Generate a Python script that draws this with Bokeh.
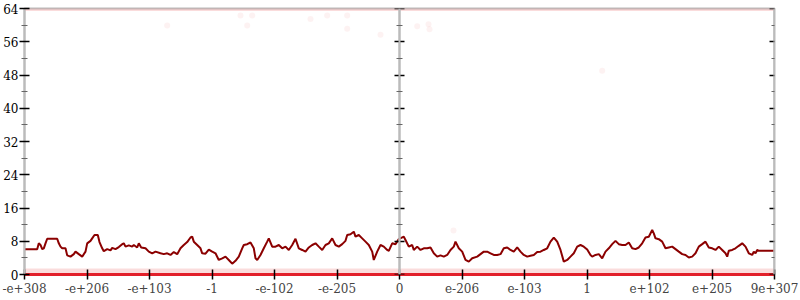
from bokeh.plotting import figure
from bokeh.models import LinearAxis, FixedTicker, Range1d, ColumnDataSource
from bokeh.embed import file_html
from bokeh.resources import INLINE

# ---- data ----
x_tick_pos = [0, 62.5, 125, 187.5, 250, 312.5, 375, 437.5, 500, 562.5, 625, 687.5, 750]
x_tick_labels = ["-e+308", "-e+206", "-e+103", "-1", "-e-102", "-e-205", "0",
                 "e-206", "e-103", "1", "e+102", "e+205", "9e+307"]
y_ticks = [0, 8, 16, 24, 32, 40, 48, 56, 64]
y_minor = [4, 12, 20, 28, 36, 44, 52, 60]

series_x = [0, 11, 12.7, 14.3, 16, 17.7, 19.3, 21, 22.7, 26, 32.7, 34.3, 36, 37.7, 41, 42.7, 46, 49.3, 51, 54.3,
            57.7, 61, 62.7, 66, 67.7, 70, 73.3, 75, 77.7, 79.3, 82.7, 86, 87.7, 91, 94.3, 97.7, 99.3, 101, 104.3,
            107.7, 109.3, 112.7, 114.3, 116.7, 121, 124.3, 127.7, 131, 136, 139.3, 142.7, 146, 149.3, 152.7, 156,
            159.3, 162.7, 166, 167.7, 169.3, 172.7, 176, 177.7, 181, 184.3,
            187.7, 191, 194.3, 197.7, 201, 204.3, 207.7, 211, 214.3, 217.7, 219.3, 222.7, 226, 229.3, 231, 232.7,
            236, 239.3, 242.7, 244.3, 247.7, 251, 254.3, 257.7, 261, 264.3, 267.7, 271, 274.3, 277.7, 281, 284.3,
            287.7, 291, 294.3, 297.7, 301, 304.3, 307.7, 311, 314.3, 317.7, 321, 322.7, 326, 329.3, 331, 334.3,
            337.7, 341, 344.3, 347.7, 349.3, 352.7, 356, 359.3, 362.7, 364.3, 367.7, 371, 374.3,
            379.3, 381, 384.3, 387.7, 389.3, 392.7, 396, 399.3, 402.7, 406, 409.3, 412.7, 416, 419.3, 422.7, 426,
            429.3, 431, 434.3, 437.7, 441, 444.3, 447.7, 452.7, 456, 459.3, 462.7, 466, 469.3, 472.7, 476, 479.3,
            482.7, 486, 489.3, 492.7, 496, 499.3, 502.7, 506, 509.3, 512.7, 516, 519.3, 522.7, 526, 529.3, 532.7,
            536, 539.3, 542.7, 546, 549.3, 552.7, 556, 559.3, 562.7, 566,
            567.7, 571, 574.3, 577.7, 581, 584.3, 587.7, 591, 594.3, 597.7, 601, 604.3, 607.7, 611, 614.3, 617.7,
            621, 624.3, 627.7, 629.3, 631, 634.3, 637.7, 641, 644.3, 647.7, 651, 654.3, 657.7, 661, 664.3, 667.7,
            671, 674.3, 677.7, 681, 684.3, 687.7, 691, 694.3, 697.7, 701, 702.7, 704.3, 707.7, 711, 714.3, 717.7,
            721, 724.3, 727.7, 729.3, 731, 732.7, 734.3, 750]
series_y = [6.1, 6.1, 6.1, 7.5, 7.1, 6.1, 6.3, 7.5, 8.6, 8.6, 8.6, 7.5, 6.7, 6.3, 6.3, 4.6, 4.3, 4.9, 5.5, 4.9,
            4.3, 5.5, 7.5, 8.1, 8.7, 9.5, 9.5, 7.8, 6.3, 5.6, 6.1, 5.8, 6.4, 6.1, 6.6, 7.3, 7.5, 6.7, 7.0,
            6.7, 7.1, 6.5, 7.5, 6.5, 6.3, 5.5, 5.1, 5.5, 5.1, 4.9, 5.1, 4.7, 5.4, 4.9, 6.3,
            7.1, 7.8, 8.9, 9.1, 7.9, 7.1, 6.3, 5.1, 5.0, 6.0,
            5.5, 5.1, 3.5, 3.9, 4.3, 3.5, 2.6, 3.3, 4.3, 6.3, 7.1, 7.3, 7.7, 6.3, 3.9, 3.5,
            4.7, 6.3, 7.9, 8.7, 6.7, 6.7, 7.1, 6.3, 6.7, 5.9, 7.1, 8.6, 6.3, 5.9, 5.5, 6.5,
            7.1, 7.5, 6.7, 5.9, 7.1, 7.5, 8.7, 7.1, 6.7, 7.3, 8.1, 9.5, 9.7, 10.3, 9.1, 9.5,
            8.7, 7.9, 7.1, 5.5, 3.5, 5.5, 7.1, 6.7, 5.9, 5.7, 7.5, 7.3, 8.5,
            9.1, 8.3, 6.7, 7.1, 5.9, 6.7, 5.9, 6.3, 6.3, 6.5, 5.1, 4.3, 4.6, 4.3, 4.7, 5.9,
            6.7, 7.9, 6.3, 5.5, 3.5, 3.1, 3.9, 4.3, 4.9, 5.5, 5.5, 5.1, 4.7, 4.7, 4.9, 6.3,
            6.5, 5.9, 5.5, 6.5, 5.5, 4.7, 4.3, 4.5, 4.7, 5.4, 5.5, 5.9, 6.3, 7.9, 8.9, 7.9,
            5.9, 3.1, 3.5, 4.3, 5.1, 6.7, 7.1, 6.7, 6.0, 4.7,
            4.3, 4.7, 4.9, 3.9, 5.5, 6.3, 7.3, 8.1, 7.3, 7.1, 7.1, 7.7, 6.3, 6.1, 6.5, 7.5,
            8.9, 9.1, 10.7, 9.9, 8.7, 8.5, 7.9, 6.3, 6.5, 6.7, 6.1, 5.5, 4.9, 4.7, 4.1, 4.3,
            5.1, 6.7, 7.3, 7.9, 6.5, 6.3, 5.9, 6.7, 5.9, 5.1, 4.3, 5.7, 5.9, 6.3, 6.9, 7.5,
            6.7, 5.1, 4.7, 5.5, 5.1, 5.9, 5.7, 5.7]

# extreme-value bands (many points piled at 0 and at 64) and a few stray points
band_x = [0, 750]
band_low = [0, 0]
band_high = [64, 64]
stray_x = [142.7, 216, 227.7, 222.7, 286, 302.7, 322.7, 322.7, 356, 392.7, 404, 405, 577.7, 429]
stray_y = [59.9, 62.3, 62.3, 59.9, 61.5, 62.3, 62.3, 59.1, 57.7, 59.7, 60.2, 59.0, 49.0, 10.6]

FONT = "DejaVu Serif"
FSIZE = "12px"

p = figure(width=800, height=300, output_backend="svg", toolbar_location=None,
           x_range=Range1d(0, 750), y_range=Range1d(0, 64),
           x_axis_location=None, y_axis_location=None,
           min_border_left=24, min_border_right=26, min_border_top=8, min_border_bottom=26)
p.xgrid.visible = False
p.ygrid.visible = False
p.outline_line_color = "#bbbbbb"
p.outline_line_width = 2
p.background_fill_color = "white"
p.border_fill_color = "white"

# bands
p.line(band_x, band_low, line_color="#f08a8a", line_alpha=0.3, line_width=12)
p.line(band_x, band_low, line_color="#e2202a", line_width=3)
p.line(band_x, band_high, line_color="#f08a8a", line_alpha=0.3, line_width=5)
p.scatter(stray_x, stray_y, size=6, fill_color="#f08080", fill_alpha=0.1, line_color=None)

# main series
src = ColumnDataSource(dict(x=series_x, y=series_y))
p.line("x", "y", source=src, line_color="#8b0000", line_width=2)


def style_common(ax):
    ax.axis_line_color = "#bbbbbb"
    ax.axis_line_width = 2
    ax.major_label_text_font = FONT
    ax.major_label_text_color = "black"


# left axis with labels
ya = LinearAxis(ticker=FixedTicker(ticks=y_ticks, minor_ticks=y_minor))
style_common(ya)
ya.major_tick_in = 5
ya.major_tick_out = 5
ya.major_tick_line_color = "black"
ya.major_tick_line_width = 1.5
ya.minor_tick_in = 3
ya.minor_tick_out = 3
ya.minor_tick_line_color = "#666666"
ya.major_label_text_font_size = FSIZE
ya.major_label_standoff = 1
p.add_layout(ya, "left")

# unlabeled tick-only axes at the centre and at the right edge
for loc in (375, 750):
    a_major = LinearAxis(fixed_location=loc, ticker=FixedTicker(ticks=[], minor_ticks=y_ticks))
    style_common(a_major)
    a_major.minor_tick_in = 5
    a_major.minor_tick_out = 5
    a_major.minor_tick_line_color = "black"
    a_major.minor_tick_line_width = 1.5
    a_major.major_label_standoff = 0
    p.add_layout(a_major, "right")
    a_minor = LinearAxis(fixed_location=loc, ticker=FixedTicker(ticks=[], minor_ticks=y_minor))
    style_common(a_minor)
    a_minor.minor_tick_in = 3
    a_minor.minor_tick_out = 3
    a_minor.minor_tick_line_color = "#666666"
    a_minor.minor_tick_line_width = 1
    a_minor.major_label_standoff = 0
    p.add_layout(a_minor, "right")

xa = LinearAxis(ticker=FixedTicker(ticks=x_tick_pos, minor_ticks=[]))
xa.major_label_overrides = {t: l for t, l in zip(x_tick_pos, x_tick_labels)}
xa.axis_line_color = "#e2202a"
xa.axis_line_width = 3
xa.major_tick_in = 5
xa.major_tick_out = 5
xa.major_tick_line_color = "black"
xa.major_tick_line_width = 1.5
xa.minor_tick_line_color = None
xa.major_label_text_font = FONT
xa.major_label_text_font_size = FSIZE
xa.major_label_standoff = 3
p.add_layout(xa, "below")

open("out.html", "w").write(file_html(p, INLINE))
